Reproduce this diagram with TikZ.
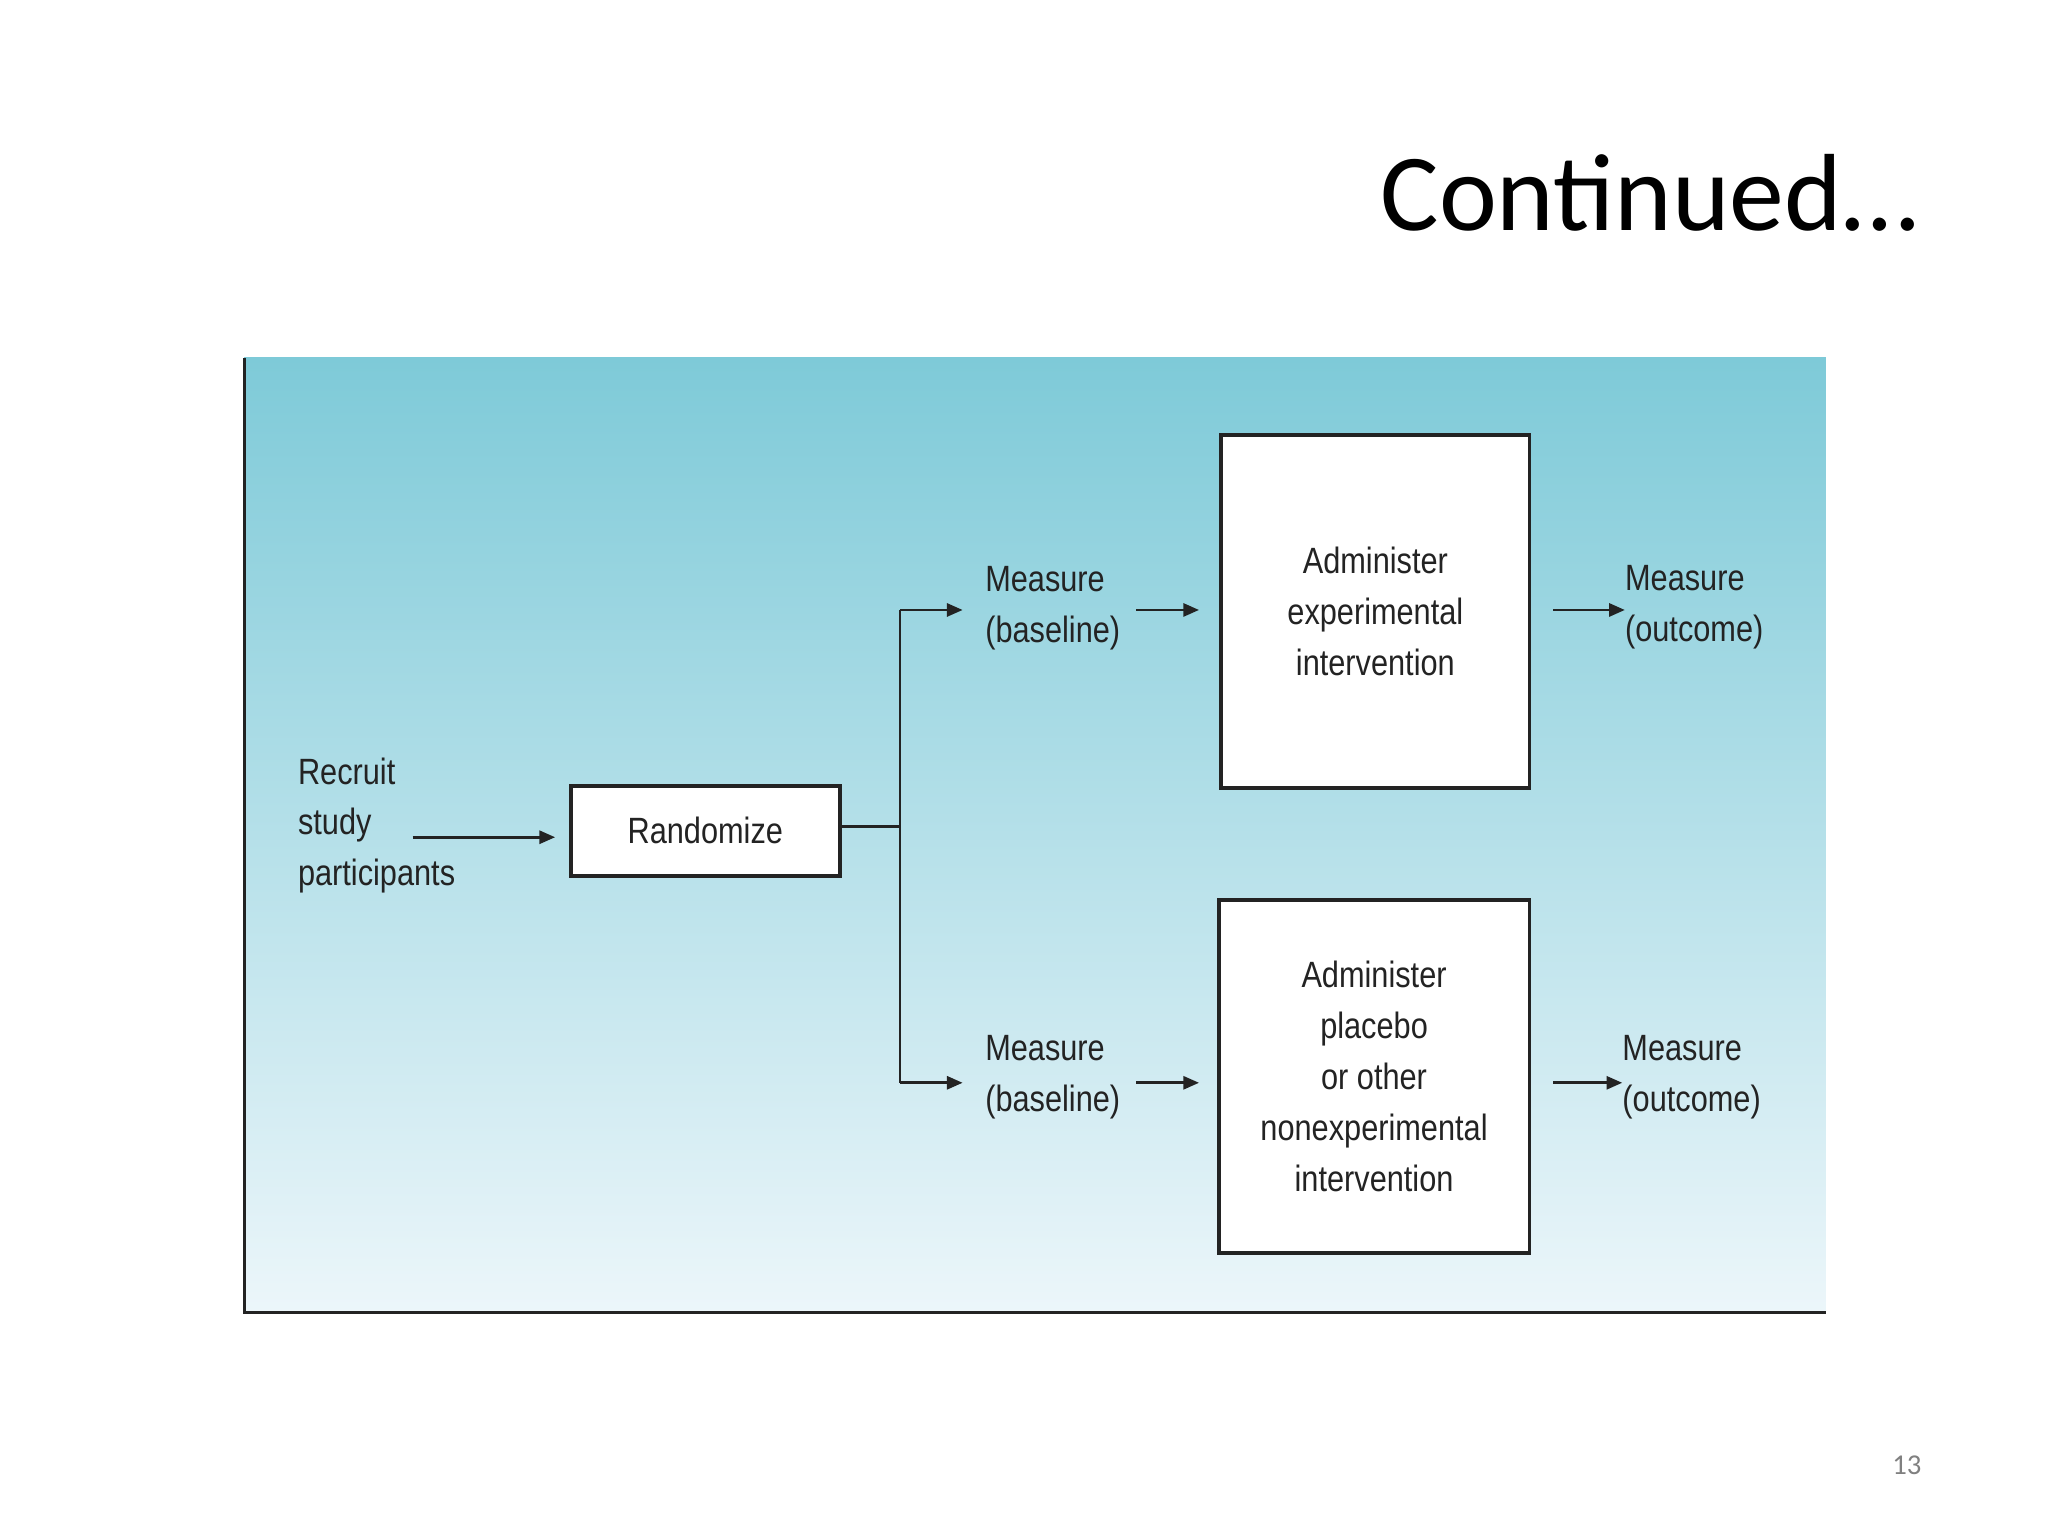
\documentclass[tikz,border=0pt]{standalone}
\usepackage{fontspec}
\setmainfont{Liberation Sans}
\newfontfamily\titlefont{Carlito}
\newfontfamily\condfont[FakeStretch=0.84]{Liberation Sans}
\usetikzlibrary{arrows.meta}
\definecolor{topc}{RGB}{126,202,216}
\definecolor{botc}{RGB}{236,246,250}
\definecolor{ink}{RGB}{35,35,35}
\tikzset{
 lbl/.style={font=\condfont\fontsize{28}{39}\selectfont, text=ink, inner sep=0pt},
 boxn/.style={draw=ink, line width=3pt, fill=white},
 arr/.style={draw=ink, line width=2pt, -{Triangle[length=12pt,width=10pt]}},
 ln/.style={draw=ink, line width=2pt}
}
\begin{document}
\begin{tikzpicture}[x=1pt,y=-1pt]
\useasboundingbox (0,0) rectangle (1568,1176);
\fill[white] (0,0) rectangle (1568,1176);
\shade[top color=topc, bottom color=botc] (187,274) rectangle (1398,1005);
\draw[ink, line width=2pt] (187,274) -- (187,1005) -- (1398,1005);
\node[anchor=east, font=\titlefont\fontsize{84}{90}\selectfont] (title) at (1472,148) {Continued…};
\node[font=\titlefont\fontsize{22}{24}\selectfont, text=gray] (pg) at (1460,1122) {13};

\node[lbl, anchor=west, align=left] (rec) at (228,632) {Recruit\\study\\participants};
\node[boxn, minimum width=206pt, minimum height=69pt, lbl, draw=ink, line width=3pt, fill=white] (rand) at (540,636) {Randomize};
\coordinate (rs) at (316,641);
\draw[arr] (rs) -- (425,641);
\coordinate (br) at (689,633);
\draw[ln] (rand.east|-br) -- (br);
\coordinate (bt) at (689,467);
\coordinate (bb) at (689,829);
\draw[ln] (bt) -- (bb);

\node[lbl, align=left] (mb1) at (806,466) {Measure\\(baseline)};
\node[lbl, align=left] (mb2) at (806,825) {Measure\\(baseline)};
\draw[arr] (bt) -- (737,467);
\draw[arr] (bb) -- (737,829);

\node[boxn, minimum width=236pt, minimum height=270pt] (ex) at (1053,468) {};
\node[lbl, align=center] at (ex) {Administer\\experimental\\intervention};
\node[boxn, minimum width=238pt, minimum height=270pt] (pl) at (1052,824) {};
\node[lbl, align=center] at (pl) {Administer\\placebo\\or other\\nonexperimental\\intervention};
\coordinate (a1) at (870,467); \coordinate (a2) at (870,829);
\draw[arr] (a1) -- (918,467);
\draw[arr] (a2) -- (918,829);

\node[lbl, anchor=west, align=left] (mo1) at (1244,465) {Measure\\(outcome)};
\node[lbl, anchor=west, align=left] (mo2) at (1242,825) {Measure\\(outcome)};
\coordinate (c1) at (1189,467); \coordinate (c2) at (1189,829);
\draw[arr] (c1) -- (mo1.west|-c1);
\draw[arr] (c2) -- (mo2.west|-c2);
\end{tikzpicture}
\end{document}
